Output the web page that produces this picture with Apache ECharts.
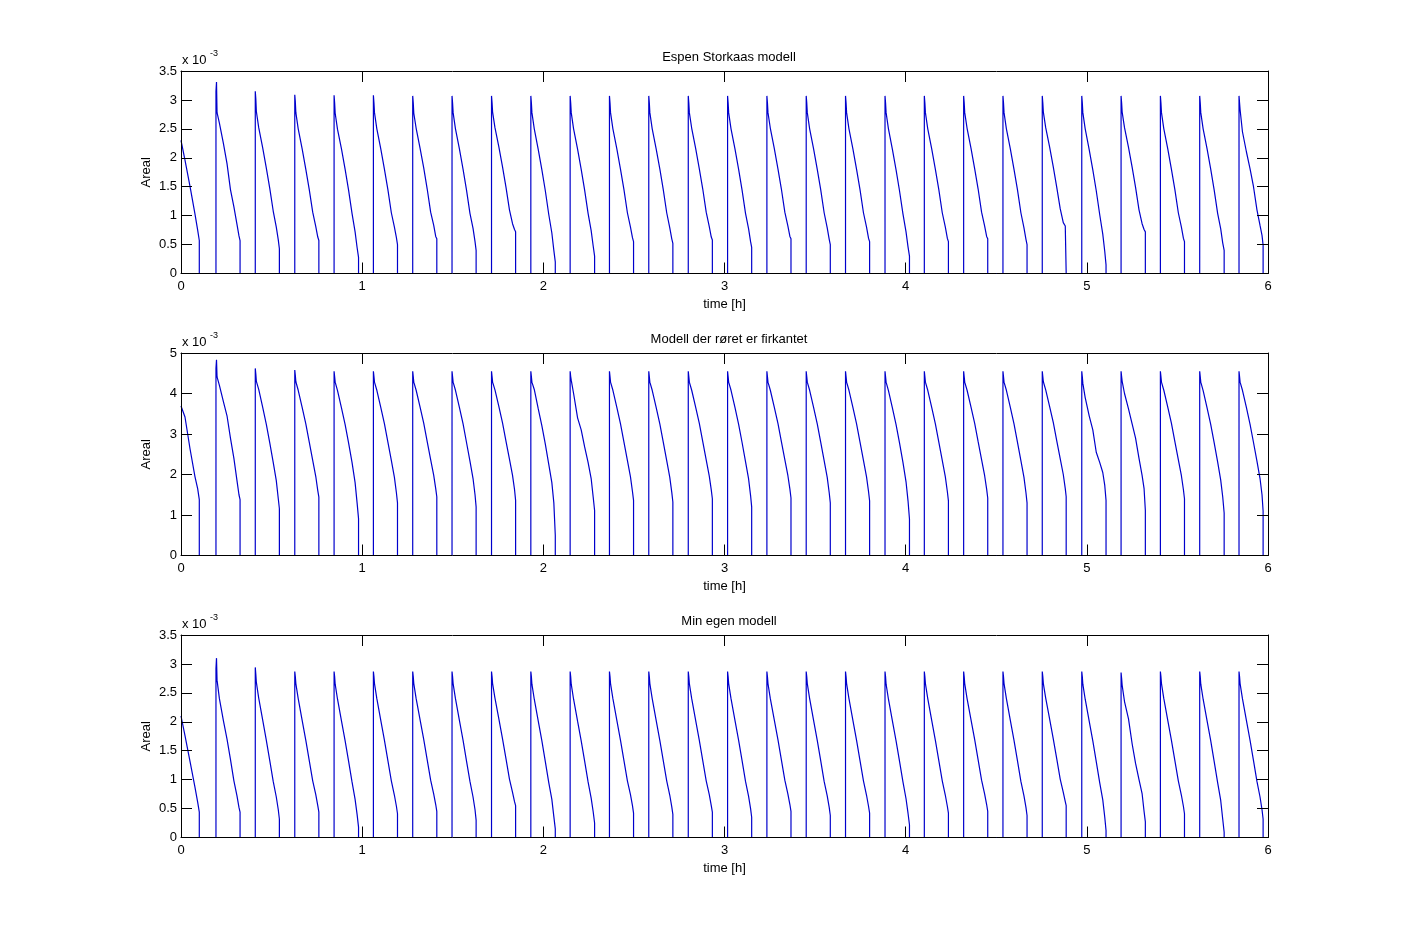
<!DOCTYPE html>
<html>
<head>
<meta charset="utf-8">
<script src="https://cdn.jsdelivr.net/npm/echarts@6/dist/echarts.min.js"></script>
<style>
html,body{margin:0;padding:0;background:#fff;}
#chart{width:1401px;height:942px;}
</style>
</head>
<body>
<div id="chart"></div>
<script>
// time [h], shared by the three simulations
const timeH = [
  0.000,0.022,0.050,0.077,0.092,0.101,0.101,
  0.193,0.193,0.196,0.199,0.212,0.234,0.254,0.273,0.292,0.309,0.320,0.326,0.326,
  0.410,0.410,0.413,0.416,0.429,0.451,0.471,0.490,0.509,0.526,0.537,0.543,0.543,
  0.628,0.628,0.631,0.634,0.647,0.669,0.689,0.708,0.727,0.744,0.755,0.761,0.761,
  0.845,0.845,0.848,0.851,0.864,0.886,0.906,0.925,0.944,0.961,0.972,0.980,0.980,
  1.062,1.062,1.065,1.068,1.081,1.103,1.123,1.142,1.161,1.178,1.189,1.195,1.195,
  1.279,1.279,1.282,1.285,1.298,1.320,1.340,1.359,1.378,1.395,1.406,1.412,1.412,
  1.496,1.496,1.499,1.502,1.515,1.537,1.557,1.576,1.595,1.612,1.623,1.629,1.629,
  1.714,1.714,1.717,1.720,1.733,1.755,1.775,1.794,1.813,1.830,1.841,1.847,1.847,
  1.931,1.931,1.934,1.937,1.950,1.972,1.992,2.011,2.030,2.047,2.058,2.066,2.066,
  2.148,2.148,2.151,2.154,2.167,2.189,2.209,2.228,2.247,2.264,2.275,2.283,2.283,
  2.365,2.365,2.368,2.371,2.384,2.406,2.426,2.445,2.464,2.481,2.492,2.498,2.498,
  2.582,2.582,2.585,2.588,2.601,2.623,2.643,2.662,2.681,2.698,2.709,2.715,2.715,
  2.800,2.800,2.803,2.806,2.819,2.841,2.861,2.880,2.899,2.916,2.927,2.933,2.933,
  3.017,3.017,3.020,3.023,3.036,3.058,3.078,3.097,3.116,3.133,3.144,3.150,3.150,
  3.234,3.234,3.237,3.240,3.253,3.275,3.295,3.314,3.333,3.350,3.361,3.367,3.367,
  3.451,3.451,3.454,3.457,3.470,3.492,3.512,3.531,3.550,3.567,3.578,3.584,3.584,
  3.668,3.668,3.671,3.674,3.687,3.709,3.729,3.748,3.767,3.784,3.795,3.801,3.801,
  3.886,3.886,3.889,3.892,3.905,3.927,3.947,3.966,3.985,4.002,4.013,4.021,4.021,
  4.103,4.103,4.106,4.109,4.122,4.144,4.164,4.183,4.202,4.219,4.230,4.236,4.236,
  4.320,4.320,4.323,4.326,4.339,4.361,4.381,4.400,4.419,4.436,4.447,4.453,4.453,
  4.537,4.537,4.540,4.543,4.556,4.578,4.598,4.617,4.636,4.653,4.664,4.670,4.670,
  4.754,4.754,4.757,4.760,4.773,4.795,4.815,4.834,4.853,4.870,4.881,4.886,4.886,
  4.972,4.972,4.975,4.978,4.991,5.013,5.033,5.052,5.071,5.088,5.099,5.106,5.106,
  5.189,5.189,5.192,5.195,5.208,5.230,5.250,5.269,5.288,5.305,5.316,5.323,5.323,
  5.406,5.406,5.409,5.412,5.425,5.447,5.467,5.486,5.505,5.522,5.533,5.539,5.539,
  5.623,5.623,5.626,5.629,5.642,5.664,5.684,5.703,5.722,5.739,5.750,5.758,5.758,
  5.840,5.840,5.843,5.846,5.859,5.881,5.901,5.920,5.939,5.956,5.967,5.973,5.973,
  6.000
];

// Areal (x 10^-3) — "Espen Storkaas modell"
const areal1 = [
  2.30,1.96,1.50,1.03,0.75,0.57,0,
  0,3.15,3.31,2.78,2.60,2.25,1.90,1.45,1.15,0.85,0.65,0.57,0,
  0,3.15,3.02,2.80,2.52,2.17,1.82,1.47,1.08,0.80,0.58,0.43,0,
  0,3.09,2.97,2.78,2.50,2.15,1.80,1.45,1.06,0.81,0.63,0.57,0,
  0,3.08,2.95,2.77,2.49,2.15,1.80,1.44,1.04,0.72,0.45,0.28,0,
  0,3.08,2.95,2.78,2.50,2.15,1.80,1.45,1.05,0.80,0.62,0.50,0,
  0,3.07,2.95,2.77,2.51,2.16,1.82,1.46,1.06,0.83,0.64,0.60,0,
  0,3.07,2.95,2.78,2.50,2.15,1.80,1.44,1.04,0.78,0.55,0.40,0,
  0,3.07,2.95,2.79,2.52,2.18,1.84,1.49,1.10,0.86,0.76,0.72,0,
  0,3.07,2.95,2.78,2.50,2.14,1.79,1.43,1.02,0.70,0.40,0.20,0,
  0,3.07,2.95,2.78,2.50,2.15,1.80,1.44,1.04,0.74,0.48,0.30,0,
  0,3.07,2.95,2.78,2.50,2.15,1.80,1.45,1.05,0.80,0.62,0.55,0,
  0,3.07,2.95,2.78,2.50,2.15,1.81,1.45,1.05,0.79,0.60,0.52,0,
  0,3.07,2.95,2.78,2.51,2.16,1.81,1.46,1.06,0.81,0.63,0.58,0,
  0,3.07,2.95,2.78,2.50,2.15,1.80,1.44,1.04,0.77,0.55,0.45,0,
  0,3.07,2.95,2.78,2.51,2.16,1.81,1.46,1.06,0.82,0.64,0.60,0,
  0,3.07,2.95,2.78,2.50,2.15,1.80,1.45,1.05,0.79,0.59,0.50,0,
  0,3.07,2.95,2.78,2.50,2.15,1.80,1.45,1.05,0.80,0.61,0.55,0,
  0,3.07,2.95,2.78,2.50,2.14,1.79,1.43,1.03,0.72,0.46,0.30,0,
  0,3.07,2.95,2.78,2.50,2.15,1.80,1.45,1.05,0.80,0.61,0.55,0,
  0,3.07,2.95,2.78,2.51,2.16,1.81,1.46,1.06,0.82,0.64,0.60,0,
  0,3.07,2.95,2.78,2.50,2.15,1.80,1.45,1.05,0.79,0.59,0.50,0,
  0,3.07,2.95,2.79,2.52,2.18,1.84,1.49,1.12,0.88,0.82,0.80,0,
  0,3.07,2.95,2.78,2.50,2.14,1.79,1.43,1.02,0.68,0.38,0.15,0,
  0,3.07,2.95,2.79,2.52,2.18,1.84,1.49,1.10,0.86,0.76,0.72,0,
  0,3.07,2.95,2.78,2.50,2.15,1.80,1.45,1.05,0.80,0.61,0.55,0,
  0,3.07,2.95,2.78,2.50,2.15,1.80,1.44,1.04,0.77,0.53,0.40,0,
  0,3.07,2.95,2.83,2.45,2.10,1.81,1.50,1.10,0.83,0.66,0.49,0,
  0
];

// Areal (x 10^-3) — "Modell der røret er firkantet"
const areal2 = [
  3.69,3.42,2.63,1.95,1.65,1.38,0,
  0,4.62,4.83,4.41,4.20,3.80,3.45,2.90,2.40,1.85,1.50,1.38,0,
  0,4.62,4.48,4.30,4.10,3.66,3.24,2.78,2.30,1.85,1.40,1.16,0,
  0,4.58,4.45,4.29,4.08,3.65,3.25,2.80,2.35,1.95,1.60,1.44,0,
  0,4.55,4.42,4.28,4.07,3.64,3.23,2.78,2.30,1.80,1.30,0.91,0,
  0,4.55,4.42,4.28,4.08,3.65,3.25,2.80,2.35,1.93,1.55,1.30,0,
  0,4.55,4.42,4.28,4.08,3.66,3.26,2.81,2.37,1.98,1.65,1.45,0,
  0,4.55,4.42,4.28,4.08,3.65,3.25,2.79,2.33,1.90,1.50,1.20,0,
  0,4.55,4.42,4.28,4.09,3.67,3.27,2.82,2.38,1.98,1.63,1.36,0,
  0,4.55,4.42,4.28,4.10,3.62,3.20,2.75,2.25,1.80,1.30,0.50,0,
  0,4.55,4.42,4.33,4.00,3.40,3.10,2.68,2.30,1.90,1.45,1.11,0,
  0,4.55,4.42,4.28,4.08,3.65,3.25,2.80,2.35,1.94,1.58,1.36,0,
  0,4.55,4.42,4.28,4.08,3.65,3.25,2.80,2.34,1.93,1.56,1.32,0,
  0,4.55,4.42,4.28,4.08,3.66,3.26,2.81,2.36,1.96,1.62,1.40,0,
  0,4.55,4.42,4.28,4.08,3.65,3.24,2.79,2.32,1.89,1.48,1.20,0,
  0,4.55,4.42,4.28,4.08,3.66,3.26,2.81,2.37,1.97,1.64,1.42,0,
  0,4.55,4.42,4.28,4.08,3.65,3.25,2.80,2.34,1.93,1.55,1.30,0,
  0,4.55,4.42,4.28,4.08,3.65,3.25,2.80,2.35,1.94,1.58,1.35,0,
  0,4.55,4.42,4.28,4.07,3.64,3.23,2.78,2.30,1.82,1.35,0.90,0,
  0,4.55,4.42,4.28,4.08,3.65,3.25,2.80,2.35,1.94,1.58,1.35,0,
  0,4.55,4.42,4.28,4.08,3.66,3.26,2.81,2.37,1.97,1.64,1.42,0,
  0,4.55,4.42,4.28,4.08,3.65,3.25,2.80,2.34,1.93,1.55,1.30,0,
  0,4.55,4.42,4.29,4.09,3.67,3.28,2.83,2.39,2.00,1.65,1.45,0,
  0,4.55,4.42,4.25,3.90,3.45,3.10,2.55,2.30,2.05,1.73,1.36,0,
  0,4.55,4.42,4.30,4.00,3.62,3.25,2.90,2.40,1.98,1.65,1.11,0,
  0,4.55,4.42,4.28,4.08,3.66,3.26,2.81,2.37,1.97,1.63,1.40,0,
  0,4.55,4.42,4.28,4.07,3.64,3.23,2.78,2.31,1.86,1.45,1.05,0,
  0,4.55,4.42,4.28,4.08,3.65,3.24,2.79,2.33,1.90,1.50,1.10,0,
  0
];

// Areal (x 10^-3) — "Min egen modell"
const areal3 = [
  2.10,1.76,1.31,0.87,0.61,0.44,0,
  0,2.92,3.10,2.72,2.40,2.02,1.70,1.35,0.98,0.72,0.52,0.44,0,
  0,2.94,2.82,2.68,2.41,2.03,1.68,1.33,0.97,0.70,0.48,0.32,0,
  0,2.87,2.78,2.66,2.40,2.02,1.68,1.33,0.98,0.74,0.55,0.44,0,
  0,2.87,2.78,2.65,2.39,2.01,1.67,1.32,0.96,0.66,0.40,0.18,0,
  0,2.87,2.78,2.66,2.40,2.02,1.68,1.33,0.98,0.73,0.54,0.41,0,
  0,2.87,2.78,2.66,2.40,2.03,1.69,1.34,0.99,0.75,0.57,0.45,0,
  0,2.87,2.78,2.66,2.40,2.02,1.68,1.32,0.97,0.70,0.48,0.30,0,
  0,2.87,2.78,2.66,2.41,2.04,1.70,1.36,1.01,0.78,0.62,0.55,0,
  0,2.87,2.78,2.65,2.39,2.01,1.67,1.31,0.95,0.66,0.36,0.15,0,
  0,2.87,2.78,2.65,2.39,2.01,1.67,1.32,0.96,0.68,0.45,0.25,0,
  0,2.87,2.78,2.66,2.40,2.02,1.68,1.33,0.98,0.74,0.55,0.42,0,
  0,2.87,2.78,2.66,2.40,2.02,1.68,1.33,0.98,0.73,0.53,0.40,0,
  0,2.87,2.78,2.66,2.40,2.02,1.68,1.33,0.98,0.74,0.55,0.44,0,
  0,2.87,2.78,2.66,2.40,2.02,1.68,1.33,0.97,0.71,0.50,0.35,0,
  0,2.87,2.78,2.66,2.40,2.03,1.69,1.34,0.99,0.75,0.57,0.45,0,
  0,2.87,2.78,2.66,2.40,2.02,1.68,1.33,0.97,0.72,0.52,0.38,0,
  0,2.87,2.78,2.66,2.40,2.02,1.68,1.33,0.98,0.73,0.54,0.42,0,
  0,2.87,2.78,2.65,2.39,2.01,1.67,1.32,0.96,0.67,0.42,0.22,0,
  0,2.87,2.78,2.66,2.40,2.02,1.68,1.33,0.98,0.73,0.54,0.42,0,
  0,2.87,2.78,2.66,2.40,2.03,1.69,1.34,0.99,0.75,0.57,0.45,0,
  0,2.87,2.78,2.66,2.40,2.02,1.68,1.33,0.97,0.72,0.52,0.38,0,
  0,2.87,2.78,2.66,2.41,2.04,1.70,1.36,1.01,0.78,0.62,0.55,0,
  0,2.87,2.78,2.65,2.39,2.01,1.67,1.31,0.95,0.65,0.35,0.12,0,
  0,2.85,2.75,2.63,2.35,2.05,1.62,1.28,1.00,0.76,0.45,0.27,0,
  0,2.87,2.78,2.66,2.40,2.02,1.68,1.33,0.98,0.73,0.54,0.41,0,
  0,2.87,2.78,2.65,2.39,2.01,1.67,1.31,0.95,0.64,0.32,0.09,0,
  0,2.87,2.78,2.66,2.40,2.02,1.68,1.33,0.97,0.70,0.48,0.32,0,
  0
];

const panelTitles = ['Espen Storkaas modell', 'Modell der røret er firkantet', 'Min egen modell'];
const panelValues = [areal1, areal2, areal3];
const yMaxes = [3.5, 5, 3.5];
const yIntervals = [0.5, 1, 0.5];
const xTickMin = 0, xTickMax = 6, xTickStep = 1;
const exponentLabel = ['x 10', '-3'];

const FONT = '"Liberation Sans", Arial, Helvetica, sans-serif';
const LINE_COLOR = '#0000cc';
const gridTops = [71, 353, 635];
const gridHeight = 202.5;
const gridLeft = 181;
const gridRight = 133;

const chart = echarts.init(document.getElementById('chart'), null, {renderer: 'canvas'});

const grids = [], xAxes = [], yAxes = [], series = [], titles = [], graphics = [];
const axisLine = {show: true, onZero: false, lineStyle: {color: '#000', width: 1}};
const tick = {show: true, inside: true, length: 11, lineStyle: {color: '#000', width: 1}};

for (let i = 0; i < 3; i++) {
  grids.push({left: gridLeft, right: gridRight, top: gridTops[i], height: gridHeight, containLabel: false});
  xAxes.push({
    type: 'value', gridIndex: i, position: 'bottom', z: 10,
    min: xTickMin, max: xTickMax, interval: xTickStep,
    name: 'time [h]', nameLocation: 'middle', nameGap: 24,
    nameTextStyle: {fontSize: 13, color: '#000', fontFamily: FONT},
    axisLine: axisLine, axisTick: tick,
    axisLabel: {margin: 6, fontSize: 13, color: '#000', fontFamily: FONT},
    splitLine: {show: false}
  });
  xAxes.push({
    type: 'value', gridIndex: i, position: 'top', z: 10,
    min: xTickMin, max: xTickMax, interval: xTickStep,
    axisLine: axisLine, axisTick: tick,
    axisLabel: {show: false}, splitLine: {show: false}
  });
  yAxes.push({
    type: 'value', gridIndex: i, position: 'left', z: 10,
    min: 0, max: yMaxes[i], interval: yIntervals[i],
    name: 'Areal', nameLocation: 'middle', nameGap: 28, nameRotate: 90,
    nameMoveOverlap: false,
    nameTextStyle: {fontSize: 13, color: '#000', fontFamily: FONT},
    axisLine: axisLine, axisTick: tick,
    axisLabel: {margin: 4, fontSize: 13, color: '#000', fontFamily: FONT},
    splitLine: {show: false}
  });
  yAxes.push({
    type: 'value', gridIndex: i, position: 'right', z: 10,
    min: 0, max: yMaxes[i], interval: yIntervals[i],
    axisLine: axisLine, axisTick: tick,
    axisLabel: {show: false}, splitLine: {show: false}
  });
  const vals = panelValues[i];
  series.push({
    type: 'line', xAxisIndex: i * 2, yAxisIndex: i * 2,
    data: timeH.map((t, k) => [t, vals[k]]),
    showSymbol: false, symbol: 'none',
    lineStyle: {color: LINE_COLOR, width: 1.2},
    itemStyle: {color: LINE_COLOR},
    animation: false, silent: true
  });
  titles.push({
    text: panelTitles[i], left: 724, top: gridTops[i] - 25, textAlign: 'center',
    textStyle: {fontSize: 13, fontWeight: 'normal', color: '#000', fontFamily: FONT}
  });
  graphics.push({
    type: 'text', x: gridLeft + 1, y: gridTops[i] - 11,
    style: {text: exponentLabel[0], fill: '#000', font: '13px ' + FONT, align: 'left', verticalAlign: 'middle'}
  });
  graphics.push({
    type: 'text', x: gridLeft + 29, y: gridTops[i] - 17,
    style: {text: exponentLabel[1], fill: '#000', font: '9px ' + FONT, align: 'left', verticalAlign: 'middle'}
  });
}

chart.setOption({
  animation: false,
  backgroundColor: '#fff',
  title: titles,
  grid: grids,
  xAxis: xAxes,
  yAxis: yAxes,
  series: series,
  graphic: graphics
});
</script>
</body>
</html>
